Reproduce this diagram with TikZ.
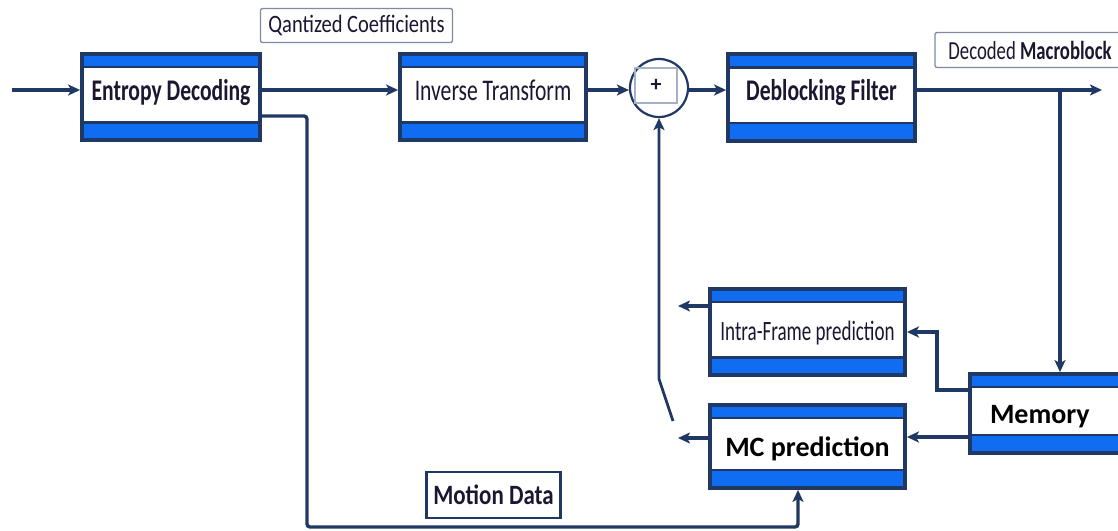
\documentclass[tikz,border=0pt]{standalone}
\usepackage{fontspec}
\setmainfont{Carlito}
\newfontfamily\condfont[FakeStretch=0.72]{Carlito}
\newfontfamily\narrowfont[FakeStretch=0.68]{Carlito}
\newfontfamily\labelfont[FakeStretch=0.82]{Carlito}
\usetikzlibrary{arrows.meta}

\definecolor{navy}{RGB}{31,56,100}
\definecolor{bandblue}{RGB}{16,108,240}
\definecolor{ink}{RGB}{28,22,48}
\definecolor{framegray}{RGB}{125,138,160}
\definecolor{sqgray}{RGB}{165,178,198}

\begin{document}
\begin{tikzpicture}[
  x=1pt, y=-1pt,
  >={Stealth[length=12pt, width=11pt, inset=3pt]},
  arr/.style={->, line width=3.4pt, draw=navy},
  stage/.style={draw=navy, line width=3.8pt, fill=white, inner sep=0pt,
                text=ink, minimum height=86.5pt, text height=16pt, text depth=10pt,
                path picture={
                  \fill[bandblue] (path picture bounding box.north west)
                    rectangle ([yshift=-13pt]path picture bounding box.north east);
                  \fill[bandblue] (path picture bounding box.south west)
                    rectangle ([yshift=18pt]path picture bounding box.south east);
                  \draw[navy, line width=2.5pt]
                    ([yshift=-13pt]path picture bounding box.north west)
                    -- ([yshift=-13pt]path picture bounding box.north east);
                  \draw[navy, line width=2.5pt]
                    ([yshift=18pt]path picture bounding box.south west)
                    -- ([yshift=18pt]path picture bounding box.south east);
                }},
  topfont/.style={font=\condfont\bfseries\fontsize{30}{32}\selectfont},
  bigfont/.style={font=\bfseries\fontsize{28}{30}\selectfont, text=black,
                  text height=22pt, text depth=2pt},
  tag/.style={draw=framegray, line width=1.3pt, rounded corners=2pt, fill=white,
              inner sep=2pt, text=ink},
]
\clip (0,0) rectangle (1118,530);
\fill[white] (0,0) rectangle (1118,530);

% ---- helper points ----
\coordinate (in) at (12,90);
\coordinate (out) at (1102,90);
\coordinate (tap) at (1060,90);
\coordinate (mot) at (307,116);
\coordinate (motb) at (307,527);
\coordinate (knee) at (937,390);
\coordinate (mcin) at (907,437);
\coordinate (intraout) at (678,306);
\coordinate (mcout) at (678,438);
\coordinate (swlo) at (673,421);
\coordinate (swhi) at (659,379);

% ---- decoder chain ----
\node[stage, topfont, minimum width=178pt] (ent) at (171,97) {Entropy Decoding};
\node[stage, topfont, font=\condfont\fontsize{30}{32}\selectfont, minimum width=186pt] (inv) at (493,97) {Inverse Transform};
\node[circle, draw=navy, line width=2.2pt, fill=white, minimum size=58pt] (sum) at (659,88) {};
\node[draw=sqgray, line width=1.3pt, minimum width=42pt, minimum height=35pt,
      font=\bfseries\fontsize{22}{22}\selectfont, text=ink] (plus) at (656,85.5) {+};
\node[stage, topfont, minimum width=187pt] (dbf) at (821.5,97.5) {Deblocking Filter};

% ---- prediction loop ----
\node[stage, font=\narrowfont\fontsize{28}{30}\selectfont, text height=20pt, text depth=4pt,
      minimum width=195pt] (intra) at (807.5,332) {Intra-Frame prediction};
\node[stage, bigfont, minimum width=195pt, minimum height=83pt] (mc) at (807.5,446.5) {MC prediction};
\node[stage, bigfont, minimum width=196pt, minimum height=79pt, text width=156pt, align=left] (mem) at (1068,413.5) {Memory};
\coordinate (mcup) at ([xshift=-9.5pt]mc.south);

% ---- labels ----
\node[tag, minimum width=192pt, minimum height=34pt,
      font=\labelfont\fontsize{25}{27}\selectfont] (qc) at (356.5,25.5) {Qantized Coefficients};
\node[tag, minimum width=190pt, minimum height=35pt,
      font=\condfont\fontsize{26}{28}\selectfont] (dm) at (1030,50) {Decoded \textbf{Macroblock}};
\node[tag, draw=navy, line width=2.5pt, rounded corners=0pt, minimum width=134pt, minimum height=46pt,
      font=\labelfont\bfseries\fontsize{28}{30}\selectfont] (md) at (493.5,495) {Motion Data};

% ---- arrows ----
\draw[arr] (in) -- (in -| ent.west);
\draw[arr] (in -| ent.east) -- (in -| inv.west);
\draw[arr] (in -| inv.east) -- (in -| sum.west);
\draw[arr] (in -| sum.east) -- (in -| dbf.west);
\draw[arr] (in -| dbf.east) -- (out);
\draw[arr] (tap) -- (tap |- mem.north);
\draw[arr] (knee -| mem.west) -- (knee) |- (intra.east);
\draw[arr] (mcin -| mem.west) -- (mcin -| mc.east);
\draw[arr] (intraout -| intra.west) -- (intraout);
\draw[arr] (mcout -| mc.west) -- (mcout);
\draw[arr, line width=2.8pt] (swlo) -- (swhi) -- (sum.south);
\draw[arr, rounded corners=3pt] (mot -| ent.east) -- (mot) |- (motb -| mcup) -- (mcup);
\end{tikzpicture}
\end{document}
